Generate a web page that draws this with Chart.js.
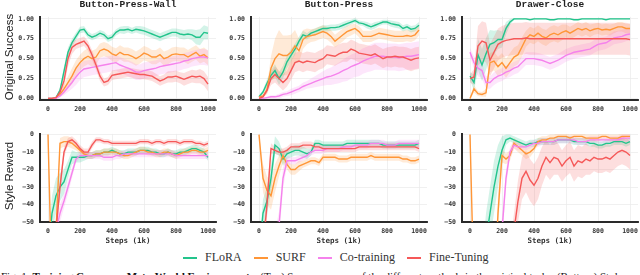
<!DOCTYPE html>
<html>
<head>
<meta charset="utf-8">
<script src="https://cdn.jsdelivr.net/npm/chart.js@4.4.1/dist/chart.umd.min.js"></script>
<style>
  html, body { margin: 0; padding: 0; background: #fff; }
  body { width: 640px; height: 275px; position: relative; overflow: hidden; }
  canvas { position: absolute; }
  .title { position: absolute; top: 0; font: bold 9.5px 'Liberation Mono', monospace; color: #222; line-height: 10px; transform: translateX(-50%); white-space: nowrap; }
  .ylab { position: absolute; font: 11.5px 'Liberation Sans', Arial, sans-serif; color: #222; white-space: nowrap; transform: translate(-50%, -50%) rotate(-90deg); }
  .xlab { position: absolute; font: bold 7.5px 'DejaVu Sans Mono', monospace; color: #333; white-space: nowrap; transform: translate(-50%, -50%); }
  #legend { position: absolute; left: 183px; top: 250px; display: flex; align-items: center; font: 12px 'Liberation Serif', 'Times New Roman', serif; color: #333; }
  #legend .item { display: flex; align-items: center; margin-right: 12px; }
  #legend .swatch { width: 14px; height: 2px; margin-right: 8px; }
  #caption { position: absolute; left: 1px; top: 271px; font: 11px 'Liberation Serif', 'Times New Roman', serif; color: #111; white-space: nowrap; line-height: 11px; }
</style>
</head>
<body>
<div id="legend"></div>
<div id="caption">Fig. 1: <b>Training Curves on Meta-World Environments:</b> (Top) Success curves of the different methods in the original tasks. (Bottom) Style reward</div>
<script>
// ===== Data =====
const steps = [0, 25, 50, 75, 100, 125, 150, 175, 200, 225,
  250, 275, 300, 325, 350, 375, 400, 425, 450, 475,
  500, 525, 550, 575, 600, 625, 650, 675, 700, 725,
  750, 775, 800, 825, 850, 875, 900, 925, 950, 975, 1000];

const methods = ['FLoRA', 'SURF', 'Co-training', 'Fine-Tuning'];
const tasks = ['Button-Press-Wall', 'Button-Press', 'Drawer-Close'];
const xTicks = [0, 200, 400, 600, 800, 1000];
const xTickLabels = ['0', '200', '400', '600', '800', '1000'];
const successTicks = [0, 0.25, 0.5, 0.75, 1];
const successTickLabels = ['0.00', '0.25', '0.50', '0.75', '1.00'];
const rewardTicks = [-50, -40, -30, -20, -10, 0];
const rewardTickLabels = ['\u221250', '\u221240', '\u221230', '\u221220', '\u221210', '0'];

// Button-Press-Wall, original success
const bpwSuccessFlora = [0, 0, 0.01, 0.1, 0.34, 0.58, 0.7, 0.78, 0.86, 0.87,
  0.8, 0.77, 0.79, 0.82, 0.8, 0.75, 0.77, 0.83, 0.86, 0.86,
  0.87, 0.85, 0.87, 0.86, 0.85, 0.83, 0.81, 0.79, 0.77, 0.79,
  0.81, 0.83, 0.83, 0.81, 0.8, 0.81, 0.8, 0.77, 0.77, 0.83, 0.82];
const bpwSuccessFloraSd = [0, 0, 0.01, 0.04, 0.06, 0.06, 0.05, 0.05, 0.04, 0.04,
  0.04, 0.04, 0.04, 0.04, 0.04, 0.04, 0.04, 0.04, 0.04, 0.05,
  0.04, 0.04, 0.04, 0.05, 0.05, 0.05, 0.05, 0.05, 0.05, 0.05,
  0.05, 0.05, 0.05, 0.06, 0.06, 0.06, 0.07, 0.09, 0.1, 0.09, 0.08];
const bpwSuccessSurf = [0, 0, 0.01, 0.05, 0.12, 0.2, 0.28, 0.38, 0.45, 0.5,
  0.53, 0.5, 0.52, 0.6, 0.62, 0.6, 0.56, 0.54, 0.58, 0.55,
  0.55, 0.53, 0.5, 0.53, 0.57, 0.55, 0.52, 0.52, 0.55, 0.5,
  0.52, 0.55, 0.56, 0.55, 0.55, 0.52, 0.55, 0.58, 0.53, 0.55, 0.51];
const bpwSuccessSurfSd = [0, 0, 0.01, 0.03, 0.06, 0.08, 0.1, 0.1, 0.1, 0.1,
  0.1, 0.1, 0.1, 0.09, 0.09, 0.09, 0.09, 0.09, 0.09, 0.09,
  0.09, 0.09, 0.09, 0.09, 0.09, 0.09, 0.09, 0.09, 0.09, 0.09,
  0.09, 0.09, 0.09, 0.09, 0.09, 0.09, 0.09, 0.09, 0.09, 0.09, 0.09];
const bpwSuccessCo = [0, 0, 0, 0.03, 0.08, 0.14, 0.2, 0.27, 0.33, 0.37,
  0.38, 0.39, 0.4, 0.41, 0.42, 0.43, 0.44, 0.45, 0.42, 0.4,
  0.38, 0.36, 0.33, 0.33, 0.35, 0.36, 0.37, 0.38, 0.4, 0.41,
  0.42, 0.43, 0.44, 0.45, 0.47, 0.48, 0.5, 0.51, 0.52, 0.52, 0.51];
const bpwSuccessCoSd = [0, 0, 0, 0.02, 0.04, 0.06, 0.08, 0.1, 0.1, 0.1,
  0.1, 0.1, 0.1, 0.1, 0.1, 0.1, 0.1, 0.1, 0.1, 0.1,
  0.1, 0.1, 0.1, 0.1, 0.1, 0.1, 0.1, 0.1, 0.1, 0.1,
  0.1, 0.1, 0.1, 0.1, 0.1, 0.1, 0.1, 0.1, 0.1, 0.1, 0.1];
const bpwSuccessFt = [0, 0, 0.01, 0.08, 0.22, 0.5, 0.64, 0.68, 0.7, 0.72,
  0.66, 0.55, 0.42, 0.28, 0.2, 0.22, 0.29, 0.3, 0.31, 0.32,
  0.33, 0.32, 0.31, 0.3, 0.3, 0.29, 0.28, 0.25, 0.22, 0.24,
  0.27, 0.27, 0.28, 0.26, 0.24, 0.26, 0.28, 0.27, 0.28, 0.25, 0.18];
const bpwSuccessFtSd = [0, 0, 0.01, 0.04, 0.08, 0.1, 0.08, 0.06, 0.06, 0.06,
  0.06, 0.06, 0.06, 0.06, 0.05, 0.05, 0.06, 0.06, 0.06, 0.06,
  0.06, 0.06, 0.06, 0.06, 0.06, 0.06, 0.06, 0.06, 0.06, 0.06,
  0.07, 0.07, 0.07, 0.07, 0.08, 0.08, 0.08, 0.08, 0.09, 0.09, 0.09];

// Button-Press, original success
const bpSuccessFlora = [0.02, 0.08, 0.19, 0.29, 0.35, 0.25, 0.33, 0.46, 0.54, 0.62,
  0.72, 0.8, 0.78, 0.82, 0.84, 0.86, 0.88, 0.88, 0.89, 0.89,
  0.9, 0.92, 0.94, 0.96, 0.98, 0.95, 0.94, 0.92, 0.9, 0.92,
  0.94, 0.96, 0.96, 0.94, 0.93, 0.92, 0.88, 0.9, 0.87, 0.88, 0.92];
const bpSuccessFloraSd = [0.01, 0.03, 0.05, 0.07, 0.08, 0.08, 0.08, 0.08, 0.08, 0.07,
  0.06, 0.05, 0.04, 0.04, 0.04, 0.04, 0.04, 0.04, 0.04, 0.04,
  0.04, 0.04, 0.04, 0.03, 0.03, 0.03, 0.03, 0.04, 0.04, 0.04,
  0.03, 0.03, 0.03, 0.04, 0.04, 0.04, 0.04, 0.04, 0.04, 0.04, 0.04];
const bpSuccessSurf = [0.02, 0.03, 0.11, 0.38, 0.5, 0.56, 0.54, 0.54, 0.58, 0.66,
  0.6, 0.74, 0.78, 0.79, 0.8, 0.82, 0.84, 0.82, 0.78, 0.72,
  0.76, 0.8, 0.84, 0.86, 0.88, 0.84, 0.78, 0.78, 0.78, 0.8,
  0.82, 0.81, 0.8, 0.79, 0.78, 0.78, 0.78, 0.79, 0.78, 0.8, 0.86];
const bpSuccessSurfSd = [0.01, 0.02, 0.05, 0.15, 0.25, 0.3, 0.25, 0.25, 0.22, 0.2,
  0.15, 0.12, 0.1, 0.08, 0.08, 0.08, 0.08, 0.08, 0.08, 0.08,
  0.08, 0.08, 0.07, 0.07, 0.06, 0.07, 0.07, 0.07, 0.07, 0.07,
  0.07, 0.07, 0.07, 0.07, 0.07, 0.07, 0.07, 0.07, 0.07, 0.07, 0.07];
const bpSuccessCo = [0, 0, 0.01, 0.02, 0.02, 0.03, 0.05, 0.06, 0.08, 0.1,
  0.12, 0.15, 0.17, 0.19, 0.21, 0.23, 0.25, 0.27, 0.28, 0.3,
  0.32, 0.35, 0.37, 0.4, 0.42, 0.44, 0.47, 0.49, 0.51, 0.53,
  0.53, 0.53, 0.52, 0.52, 0.52, 0.51, 0.52, 0.53, 0.53, 0.54, 0.55];
const bpSuccessCoSd = [0, 0.01, 0.01, 0.02, 0.02, 0.03, 0.03, 0.03, 0.04, 0.04,
  0.04, 0.05, 0.05, 0.06, 0.07, 0.08, 0.09, 0.1, 0.11, 0.12,
  0.13, 0.14, 0.15, 0.15, 0.15, 0.16, 0.16, 0.16, 0.17, 0.17,
  0.17, 0.17, 0.17, 0.17, 0.17, 0.17, 0.17, 0.17, 0.17, 0.17, 0.17];
const bpSuccessFt = [0, 0.02, 0.1, 0.25, 0.3, 0.25, 0.2, 0.25, 0.35, 0.45,
  0.47, 0.45, 0.47, 0.46, 0.45, 0.48, 0.5, 0.55, 0.54, 0.53,
  0.56, 0.58, 0.58, 0.62, 0.6, 0.57, 0.56, 0.55, 0.54, 0.56,
  0.53, 0.5, 0.52, 0.52, 0.53, 0.52, 0.52, 0.5, 0.48, 0.5, 0.51];
const bpSuccessFtSd = [0, 0.01, 0.04, 0.08, 0.1, 0.1, 0.1, 0.1, 0.12, 0.12,
  0.12, 0.12, 0.12, 0.12, 0.12, 0.12, 0.12, 0.12, 0.12, 0.12,
  0.12, 0.12, 0.12, 0.12, 0.12, 0.12, 0.12, 0.12, 0.12, 0.12,
  0.12, 0.12, 0.12, 0.13, 0.13, 0.13, 0.13, 0.14, 0.14, 0.14, 0.14];

// Drawer-Close, original success
const dcSuccessFlora = [0.28, 0.2, 0.55, 0.42, 0.56, 0.68, 0.7, 0.74, 0.74, 0.88,
  0.96, 1, 1, 1, 1, 0.99, 1, 1, 1, 1,
  0.99, 0.99, 1, 1, 1, 1, 0.99, 0.99, 1, 1,
  1, 1, 1, 1, 0.99, 1, 1, 1, 1, 1, 1];
const dcSuccessFloraSd = [0.05, 0.1, 0.2, 0.2, 0.2, 0.18, 0.15, 0.12, 0.1, 0.08,
  0.04, 0.01, 0.005, 0.005, 0.005, 0.005, 0.005, 0.005, 0.005, 0.005,
  0.005, 0.005, 0.005, 0.005, 0.005, 0.005, 0.005, 0.005, 0.005, 0.005,
  0.005, 0.005, 0.005, 0.005, 0.005, 0.005, 0.005, 0.005, 0.005, 0.005, 0.005];
const dcSuccessSurf = [0, 0.12, 0.06, 0.05, 0.07, 0.45, 0.47, 0.4, 0.45, 0.38,
  0.45, 0.52, 0.55, 0.65, 0.75, 0.8, 0.78, 0.82, 0.78, 0.76,
  0.8, 0.82, 0.8, 0.83, 0.85, 0.82, 0.85, 0.88, 0.86, 0.88,
  0.85, 0.87, 0.88, 0.86, 0.87, 0.86, 0.88, 0.9, 0.9, 0.88, 0.88];
const dcSuccessSurfSd = [0.01, 0.05, 0.03, 0.03, 0.05, 0.12, 0.12, 0.12, 0.12, 0.12,
  0.12, 0.12, 0.12, 0.12, 0.1, 0.1, 0.1, 0.1, 0.1, 0.1,
  0.1, 0.1, 0.1, 0.1, 0.08, 0.08, 0.08, 0.08, 0.08, 0.08,
  0.08, 0.07, 0.07, 0.07, 0.07, 0.07, 0.06, 0.06, 0.06, 0.06, 0.06];
const dcSuccessCo = [0.58, 0.45, 0.38, 0.35, 0.2, 0.2, 0.25, 0.28, 0.3, 0.33,
  0.35, 0.38, 0.4, 0.45, 0.5, 0.5, 0.5, 0.49, 0.48, 0.46,
  0.44, 0.46, 0.48, 0.51, 0.54, 0.56, 0.58, 0.59, 0.6, 0.61,
  0.62, 0.65, 0.68, 0.69, 0.7, 0.73, 0.76, 0.77, 0.78, 0.8, 0.81];
const dcSuccessCoSd = [0.05, 0.08, 0.1, 0.1, 0.08, 0.08, 0.08, 0.08, 0.08, 0.08,
  0.08, 0.08, 0.08, 0.08, 0.08, 0.08, 0.08, 0.08, 0.08, 0.08,
  0.08, 0.08, 0.08, 0.08, 0.08, 0.08, 0.08, 0.08, 0.08, 0.08,
  0.08, 0.08, 0.08, 0.08, 0.08, 0.08, 0.08, 0.08, 0.08, 0.08, 0.08];
const dcSuccessFt = [0.25, 0.27, 0.66, 0.72, 0.7, 0.48, 0.58, 0.68, 0.71, 0.73,
  0.74, 0.75, 0.75, 0.75, 0.76, 0.75, 0.75, 0.75, 0.75, 0.75,
  0.75, 0.75, 0.75, 0.75, 0.75, 0.75, 0.75, 0.75, 0.75, 0.75,
  0.75, 0.75, 0.75, 0.75, 0.75, 0.75, 0.75, 0.75, 0.75, 0.75, 0.74];
const dcSuccessFtSd = [0.05, 0.1, 0.25, 0.25, 0.25, 0.2, 0.2, 0.2, 0.2, 0.2,
  0.2, 0.2, 0.2, 0.2, 0.2, 0.2, 0.2, 0.2, 0.2, 0.2,
  0.2, 0.2, 0.2, 0.2, 0.2, 0.2, 0.2, 0.2, 0.2, 0.2,
  0.2, 0.2, 0.2, 0.2, 0.2, 0.2, 0.2, 0.2, 0.2, 0.2, 0.2];

// Button-Press-Wall, style reward
const bpwRewardFlora = [-70, -45, -35, -30, -27, -20, -13, -13, -13, -13,
  -12, -12, -11, -11, -10, -10, -9, -10, -11, -11,
  -10, -10, -10, -9, -9, -9, -10, -10, -11, -11,
  -10, -11, -11, -10, -10, -9, -8, -8, -9, -10, -13];
const bpwRewardFloraSd = [5, 10, 10, 8, 7, 5, 4, 3, 3, 2,
  2, 2, 2, 2, 2, 2, 2, 2, 2, 2,
  2, 2, 2, 2, 2, 2, 2, 2, 2, 2,
  2, 2, 2, 2, 2, 2, 2, 2, 2, 2, 2];
const bpwRewardSurf = [0, -90, -55, -5, -4, -4, -5, -7, -9, -11,
  -12, -12, -11, -11, -10, -10, -10, -10, -11, -12,
  -12, -11, -10, -9, -9, -10, -10, -11, -11, -10,
  -10, -11, -12, -11, -10, -10, -9, -9, -10, -10, -9];
const bpwRewardSurfSd = [0, 5, 5, 3, 3, 3, 3, 2, 2, 2,
  2, 2, 2, 2, 2, 2, 2, 2, 2, 2,
  2, 2, 2, 2, 2, 2, 2, 2, 2, 2,
  2, 2, 2, 2, 2, 2, 2, 2, 2, 2, 2];
const bpwRewardCo = [-70, -65, -55, -45, -38, -30, -22, -14, -12, -12,
  -12, -12, -12, -12, -13, -13, -13, -12, -12, -11,
  -11, -11, -11, -11, -11, -11, -11, -11, -11, -11,
  -11, -11, -12, -12, -12, -12, -12, -12, -12, -12, -12];
const bpwRewardCoSd = [5, 5, 5, 5, 4, 4, 3, 2, 2, 2,
  2, 2, 2, 2, 2, 2, 2, 2, 2, 2,
  2, 2, 2, 2, 2, 2, 2, 2, 2, 2,
  2, 2, 2, 2, 2, 2, 2, 2, 2, 2, 2];
const bpwRewardFt = [-70, -70, -55, -30, -10, -4, -3, -5, -8, -10,
  -10, -6, -3, -3, -4, -4, -5, -5, -5, -5,
  -5, -5, -5, -4, -4, -4, -5, -4, -4, -5,
  -4, -4, -4, -5, -4, -4, -4, -5, -5, -6, -5];
const bpwRewardFtSd = [5, 5, 5, 5, 3, 2, 2, 2, 2, 2,
  2, 2, 1.5, 1.5, 1.5, 1.5, 1.5, 1.5, 1.5, 1.5,
  1.5, 1.5, 1.5, 1.5, 1.5, 1.5, 1.5, 1.5, 1.5, 1.5,
  1.5, 1.5, 1.5, 1.5, 1.5, 1.5, 1.5, 1.5, 1.5, 1.5, 1.5];

// Button-Press, style reward
const bpRewardFlora = [-70, -45, -38, -25, -6, -8, -14, -11, -10, -9,
  -9, -10, -11, -10, -5, -5, -6, -6, -6, -6,
  -6, -6, -5, -5, -5, -5, -5, -5, -5, -5,
  -5, -6, -6, -6, -6, -6, -6, -6, -6, -6, -5];
const bpRewardFloraSd = [5, 8, 8, 8, 5, 4, 4, 3, 3, 3,
  3, 3, 3, 2, 2, 2, 2, 2, 2, 2,
  2, 2, 2, 2, 2, 2, 2, 2, 2, 2,
  2, 2, 2, 2, 2, 2, 2, 2, 2, 2, 2];
const bpRewardSurf = [0, -25, -32, -35, -25, -18, -12, -17, -20, -20,
  -18, -17, -16, -15, -15, -16, -13, -13, -13, -13,
  -14, -14, -14, -13, -13, -13, -13, -13, -12, -13,
  -13, -13, -13, -13, -13, -13, -14, -14, -15, -15, -14];
const bpRewardSurfSd = [0, 8, 8, 8, 8, 6, 4, 3, 3, 3,
  3, 2, 2, 2, 2, 2, 2, 2, 2, 2,
  2, 2, 2, 2, 2, 2, 2, 2, 2, 2,
  2, 2, 2, 2, 2, 2, 2, 2, 2, 2, 2];
const bpRewardCo = [-70, -70, -70, -65, -60, -52, -25, -15, -15, -15,
  -14, -13, -12, -10, -9, -9, -9, -8, -8, -8,
  -8, -7, -7, -7, -6, -6, -6, -6, -5, -5,
  -5, -5, -6, -6, -6, -5, -5, -5, -5, -5, -5];
const bpRewardCoSd = [5, 5, 5, 5, 5, 8, 6, 3, 2, 2,
  2, 2, 2, 2, 2, 2, 2, 2, 2, 2,
  2, 2, 2, 2, 2, 2, 2, 2, 2, 2,
  2, 2, 2, 2, 2, 2, 2, 2, 2, 2, 2];
const bpRewardFt = [-70, -65, -40, -8, -9, -10, -10, -9, -7, -7,
  -7, -6, -6, -6, -7, -7, -8, -8, -8, -8,
  -8, -8, -8, -8, -8, -7, -7, -7, -7, -7,
  -7, -7, -7, -7, -7, -7, -7, -7, -7, -7, -8];
const bpRewardFtSd = [5, 5, 8, 3, 2, 2, 2, 2, 2, 2,
  2, 2, 2, 2, 2, 2, 2, 2, 2, 2,
  2, 2, 2, 2, 2, 2, 2, 2, 2, 2,
  2, 2, 2, 2, 2, 2, 2, 2, 2, 2, 2];

// Drawer-Close, style reward
const dcRewardFlora = [-90, -90, -90, -80, -60, -45, -30, -18, -9, -3,
  -2, -3, -4, -5, -6, -5, -5, -4, -4, -4,
  -4, -4, -3, -3, -3, -3, -4, -4, -4, -4,
  -5, -5, -6, -6, -5, -5, -4, -4, -4, -5, -4];
const dcRewardFloraSd = [5, 5, 5, 10, 15, 15, 15, 12, 8, 3,
  2, 2, 2, 2, 2, 2, 2, 2, 2, 2,
  2, 2, 2, 2, 2, 2, 2, 2, 2, 2,
  2, 2, 2, 2, 2, 2, 2, 2, 2, 2, 2];
const dcRewardSurf = [0, -90, -90, -90, -90, -90, -90, -45, -12, -14,
  -12, -5, -7, -9, -11, -10, -8, -4, -3, -3,
  -2, -2, -1, -1, -1, -2, -1, -1, -1, -2,
  -2, -2, -2, -1, -1, -2, -2, -2, -1, -1, -1];
const dcRewardSurfSd = [0, 5, 5, 5, 5, 5, 5, 10, 4, 3,
  3, 3, 3, 3, 3, 3, 2, 2, 2, 2,
  2, 2, 2, 2, 2, 2, 2, 2, 2, 2,
  2, 2, 2, 2, 2, 2, 2, 2, 2, 2, 2];
const dcRewardCo = [-90, -90, -90, -90, -90, -90, -90, -80, -55, -25,
  -10, -6, -7, -7, -7, -6, -5, -5, -4, -4,
  -4, -4, -3, -3, -3, -3, -3, -4, -4, -4,
  -3, -3, -3, -3, -3, -3, -3, -3, -2, -2, -2];
const dcRewardCoSd = [5, 5, 5, 5, 5, 5, 5, 5, 8, 5,
  3, 2, 2, 2, 2, 2, 2, 2, 2, 2,
  2, 2, 2, 2, 2, 2, 2, 2, 2, 2,
  2, 2, 2, 2, 2, 2, 2, 2, 2, 2, 2];
const dcRewardFt = [-90, -90, -90, -90, -90, -90, -90, -90, -90, -90,
  -70, -55, -38, -25, -21, -26, -29, -25, -18, -13,
  -16, -13, -14, -18, -15, -13, -18, -15, -16, -14,
  -15, -13, -14, -14, -13, -14, -12, -10, -9, -10, -12];
const dcRewardFtSd = [5, 5, 5, 5, 5, 5, 5, 5, 5, 5,
  8, 10, 12, 12, 12, 12, 12, 12, 11, 10,
  10, 10, 9, 9, 9, 9, 9, 9, 9, 9,
  8, 8, 8, 8, 8, 8, 8, 8, 8, 8, 8];

// ===== Style =====
const colors = ['rgb(35, 196, 140)', 'rgb(255, 150, 55)', 'rgb(245, 130, 236)', 'rgb(245, 88, 88)'];
const fills = ['rgba(35, 196, 140, 0.2)', 'rgba(255, 150, 55, 0.2)', 'rgba(245, 130, 236, 0.2)', 'rgba(245, 88, 88, 0.2)'];

const areaLefts = [40, 251, 462];
const areaWidth = 176;
const rowBoxes = [{ top: 13, height: 87 }, { top: 130, height: 92 }];
const yAxisW = 36, xAxisH = 16, padTop = 6, padRight = 12;

const panels = [
  { row: 0, col: 0, series: [[bpwSuccessFlora, bpwSuccessFloraSd], [bpwSuccessSurf, bpwSuccessSurfSd], [bpwSuccessCo, bpwSuccessCoSd], [bpwSuccessFt, bpwSuccessFtSd]] },
  { row: 0, col: 1, series: [[bpSuccessFlora, bpSuccessFloraSd], [bpSuccessSurf, bpSuccessSurfSd], [bpSuccessCo, bpSuccessCoSd], [bpSuccessFt, bpSuccessFtSd]] },
  { row: 0, col: 2, series: [[dcSuccessFlora, dcSuccessFloraSd], [dcSuccessSurf, dcSuccessSurfSd], [dcSuccessCo, dcSuccessCoSd], [dcSuccessFt, dcSuccessFtSd]] },
  { row: 1, col: 0, series: [[bpwRewardFlora, bpwRewardFloraSd], [bpwRewardSurf, bpwRewardSurfSd], [bpwRewardCo, bpwRewardCoSd], [bpwRewardFt, bpwRewardFtSd]] },
  { row: 1, col: 1, series: [[bpRewardFlora, bpRewardFloraSd], [bpRewardSurf, bpRewardSurfSd], [bpRewardCo, bpRewardCoSd], [bpRewardFt, bpRewardFtSd]] },
  { row: 1, col: 2, series: [[dcRewardFlora, dcRewardFloraSd], [dcRewardSurf, dcRewardSurfSd], [dcRewardCo, dcRewardCoSd], [dcRewardFt, dcRewardFtSd]] }
];

function pts(values, sd, sign) {
    return values.map((v, i) => ({ x: steps[i], y: v + sign * (sd ? sd[i] : 0) }));
}

function buildDatasets(series) {
    const ds = [];
    series.forEach(([mean, sd], k) => {
        const order = 4 - k;
        ds.push({ data: pts(mean, sd, -1), borderColor: 'rgba(0,0,0,0)', borderWidth: 1, fill: false, order });
        ds.push({ data: pts(mean, sd, 1), borderColor: 'rgba(0,0,0,0)', borderWidth: 1, fill: '-1', backgroundColor: fills[k], order });
        ds.push({ data: pts(mean, null, 0), borderColor: colors[k], borderWidth: 1.4, fill: false, order });
    });
    return ds;
}

const tickFont = { family: "'DejaVu Sans Mono', monospace", size: 6.5, weight: 'bold' };

panels.forEach(p => {
    const box = rowBoxes[p.row];
    const left = areaLefts[p.col];
    const canvas = document.createElement('canvas');
    const w = yAxisW + areaWidth + padRight;
    const h = padTop + box.height + xAxisH;
    canvas.width = w;
    canvas.height = h;
    canvas.style.left = (left - yAxisW) + 'px';
    canvas.style.top = (box.top - padTop) + 'px';
    canvas.style.width = w + 'px';
    canvas.style.height = h + 'px';
    document.body.appendChild(canvas);

    const yVals = p.row === 0 ? successTicks : rewardTicks;
    const yLabels = p.row === 0 ? successTickLabels : rewardTickLabels;
    const yMin = p.row === 0 ? -0.02 : -50;
    const yMax = p.row === 0 ? 1.025 : 0.4;

    new Chart(canvas.getContext('2d'), {
        type: 'line',
        data: { datasets: buildDatasets(p.series) },
        options: {
            responsive: false,
            animation: false,
            devicePixelRatio: 1,
            layout: { padding: { left: 0, top: padTop, right: padRight, bottom: 0 } },
            elements: { point: { radius: 0 }, line: { tension: 0 } },
            plugins: {
                legend: { display: false },
                tooltip: { enabled: false },
                filler: { drawTime: 'beforeDatasetsDraw' }
            },
            scales: {
                x: {
                    type: 'linear', min: -50, max: 1050,
                    afterBuildTicks: s => { s.ticks = xTicks.map(v => ({ value: v })); },
                    afterFit: s => { s.height = xAxisH; },
                    grid: { color: '#ececec', lineWidth: 0.8, drawTicks: false },
                    border: { display: true, color: '#2a2a2a', width: 2 },
                    ticks: { padding: 5, autoSkip: false, maxRotation: 0, color: '#333', font: tickFont,
                        callback: v => xTickLabels[xTicks.indexOf(v)] }
                },
                y: {
                    type: 'linear', min: yMin, max: yMax,
                    afterBuildTicks: s => { s.ticks = yVals.map(v => ({ value: v })); },
                    afterFit: s => { s.width = yAxisW; },
                    grid: { color: '#ececec', lineWidth: 0.8, drawTicks: false },
                    border: { display: true, color: '#2a2a2a', width: 2 },
                    ticks: { padding: 6, autoSkip: false, color: '#333', font: tickFont,
                        callback: v => yLabels[yVals.indexOf(v)] }
                }
            }
        }
    });
});

// titles, axis labels
tasks.forEach((t, c) => {
    const d = document.createElement('div');
    d.className = 'title';
    d.textContent = t;
    d.style.left = (areaLefts[c] + areaWidth / 2) + 'px';
    document.body.appendChild(d);

    const s = document.createElement('div');
    s.className = 'xlab';
    s.textContent = 'Steps (1k)';
    s.style.left = (areaLefts[c] + areaWidth / 2) + 'px';
    s.style.top = '240px';
    document.body.appendChild(s);
});

[['Original Success', rowBoxes[0]], ['Style Reward', rowBoxes[1]]].forEach(([txt, box]) => {
    const d = document.createElement('div');
    d.className = 'ylab';
    d.textContent = txt;
    d.style.left = '9px';
    d.style.top = (box.top + box.height / 2) + 'px';
    document.body.appendChild(d);
});

// legend
const legend = document.getElementById('legend');
methods.forEach((m, k) => {
    legend.innerHTML += `<div class="item"><div class="swatch" style="background:${colors[k]}"></div><span>${m}</span></div>`;
});
</script>
</body>
</html>
